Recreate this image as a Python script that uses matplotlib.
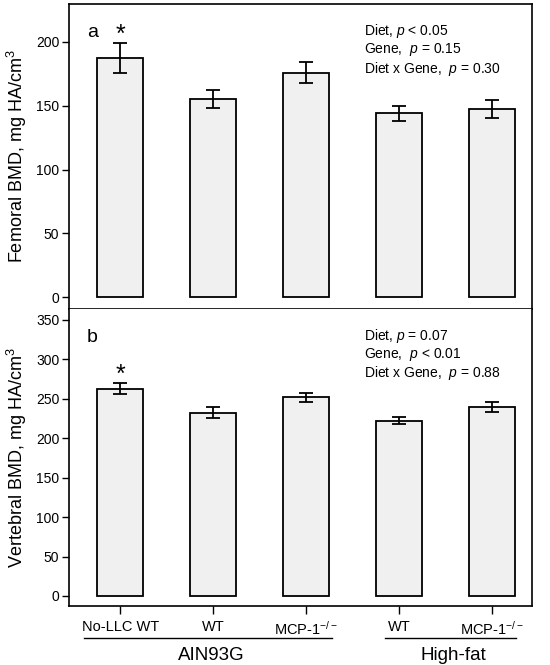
import numpy as np
import matplotlib
matplotlib.use("Agg")
import matplotlib.pyplot as plt
import matplotlib.transforms as mtransforms

plt.rcParams['font.family'] = ['Liberation Sans', 'DejaVu Sans']
plt.rcParams['mathtext.fontset'] = 'custom'
plt.rcParams['mathtext.rm'] = 'Liberation Sans'
plt.rcParams['mathtext.it'] = 'Liberation Sans:italic'

# data
groups = ["No-LLC WT", "WT", "MCP-1$^{-/-}$", "WT", "MCP-1$^{-/-}$"]
femoral = [187.5, 155, 176, 144, 147.5]
femoral_err = [12, 7, 8.5, 6, 7]
vertebral = [263, 232.5, 252, 222.5, 239.5]
vertebral_err = [7.5, 7, 5.5, 4, 6]
diets = ["AIN93G", "High-fat"]
stats_a = ["Diet, $\\mathit{p}$ < 0.05", "Gene,  $\\mathit{p}$ = 0.15", "Diet x Gene,  $\\mathit{p}$ = 0.30"]
stats_b = ["Diet, $\\mathit{p}$ = 0.07", "Gene,  $\\mathit{p}$ < 0.01", "Diet x Gene,  $\\mathit{p}$ = 0.88"]

W, H = 550, 665
fig = plt.figure(figsize=(W / 100, H / 100), dpi=100)

def px_axes(left, top, right, bottom):
    return fig.add_axes([left / W, 1 - bottom / H, (right - left) / W, (bottom - top) / H])

ax1 = px_axes(69, 4, 532, 309)
ax2 = px_axes(69, 309, 532, 606)

x = np.arange(len(groups))

def draw(ax, vals, errs, ylim, yticks, ylabel, letter, stats):
    ax.bar(x, vals, width=0.5, color="#f0f0f0", edgecolor="black", linewidth=1.3, zorder=2)
    ax.errorbar(x, vals, yerr=errs, fmt="none", ecolor="black", elinewidth=1.3,
                capsize=5, capthick=1.3, zorder=3)
    ax.set_xlim(-0.55, 4.43)
    ax.set_ylim(*ylim)
    ax.set_yticks(yticks)
    ax.tick_params(axis="y", direction="out", length=5, width=1, labelsize=10, pad=2)
    ax.set_ylabel(ylabel, fontsize=13, labelpad=5)
    for s in ax.spines.values():
        s.set_linewidth(1.2)
    ax.text(0.05, 0.905, letter, transform=ax.transAxes, fontsize=14, ha="center", va="center")
    ax.text(0.637, 0.94, "\n".join(stats), transform=ax.transAxes, fontsize=10,
            ha="left", va="top", linespacing=1.1)
    # significance star on first bar
    ax.annotate("*", (x[0], vals[0] + errs[0]), xytext=(0, -3), textcoords="offset points",
                ha="center", va="bottom", fontsize=18)

draw(ax1, femoral, femoral_err, (-9.4, 229.8), [0, 50, 100, 150, 200],
     "Femoral BMD, mg HA/cm$^3$", "a", stats_a)
draw(ax2, vertebral, vertebral_err, (-12.7, 363.9), [0, 50, 100, 150, 200, 250, 300, 350],
     "Vertebral BMD, mg HA/cm$^3$", "b", stats_b)

ax1.tick_params(axis="x", bottom=False, labelbottom=False)
ax2.spines["top"].set_visible(False)
ax2.set_xticks(x)
ax2.set_xticklabels(groups, fontsize=10.5)
ax2.tick_params(axis="x", direction="out", length=6, width=1, pad=4)

# diet group lines and labels
trans = mtransforms.blended_transform_factory(ax2.transData, ax2.transAxes)
spans = [(-0.39, 2.28), (2.85, 4.26)]
for name, (a, b) in zip(diets, spans):
    ax2.plot([a, b], [-0.108, -0.108], color="black", lw=1, transform=trans, clip_on=False)
    ax2.text((a + b) / 2 + 0.03, -0.165, name, transform=trans, ha="center", va="center", fontsize=13.5)

fig.savefig("out.png", dpi=100)
